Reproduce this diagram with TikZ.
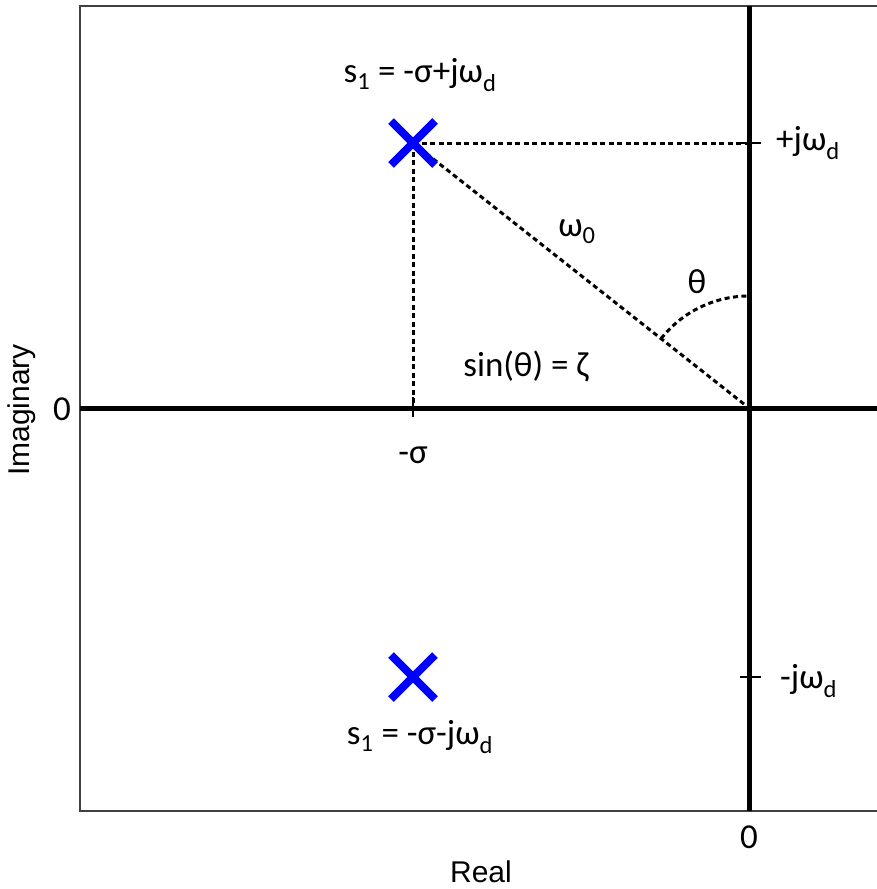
\documentclass[tikz,border=0pt]{standalone}
\usepackage{fontspec}
\setmainfont{Carlito}
\newfontfamily\axisfont{Liberation Sans}
\usetikzlibrary{shapes.misc,positioning}
\definecolor{polecol}{HTML}{0000FF}
\definecolor{framegray}{HTML}{404040}

\begin{document}
\begin{tikzpicture}[x=1pt, y=-1pt,
    frame/.style={draw=framegray, line width=2pt},
    axisline/.style={line width=5pt},
    guide/.style={line width=3pt, dash pattern=on 5pt off 3.5pt},
    tick/.style={line width=2.5pt},
    pole/.style={cross out, draw=polecol, line width=8pt, minimum size=36pt, inner sep=0pt},
    lbl/.style={font=\fontsize{35}{42}\selectfont, inner sep=0pt},
    axlbl/.style={font=\axisfont\fontsize{30}{36}\selectfont, inner sep=0pt}
  ]
    \useasboundingbox (0,0) rectangle (877,889);
    % frame, open on the right
    \draw[frame] (877,6) -- (80,6) -- (80,811) -- (877,811);
    % axes
    \coordinate (orig) at (749,408);
    \draw[axisline] (80,408) -- (877,408);
    \draw[axisline] (749,6) -- (749,811);
    % reference points
    \coordinate (ptop) at (413,143);
    \coordinate (pbot) at (413,677);
    \coordinate (jwup) at (749,143);
    \coordinate (jwdn) at (749,677);
    \coordinate (sig) at (413,408);
    % guides
    \draw[guide] (ptop) -- (jwup);
    \draw[guide] (ptop) -- (sig);
    \draw[guide] (ptop) -- (orig);
    \draw[guide] ([shift={(-141.7:112)}]orig) arc[start angle=-141.7, end angle=-90, radius=112];
    % ticks
    \draw[tick] ([xshift=-9pt]jwup) -- ([xshift=12pt]jwup);
    \draw[tick] ([xshift=-9pt]jwdn) -- ([xshift=12pt]jwdn);
    \draw[tick] ([yshift=-9pt]sig) -- ([yshift=11pt]sig);
    % poles
    \node[pole] (s1) at (ptop) {};
    \node[pole] (s2) at (pbot) {};
    % labels
    \node[lbl] (s1lbl) at (420,75) {s\textsubscript{1} = -σ+jω\textsubscript{d}};
    \node[lbl] (s2lbl) at (420,737) {s\textsubscript{1} = -σ-jω\textsubscript{d}};
    \node[lbl] (w0) at (577,232) {ω\textsubscript{0}};
    \node[lbl] (th) at (697,282) {θ};
    \node[lbl] (sinlbl) at (526,366) {sin(θ) = ζ};
    \node[lbl, anchor=west] (jwuplbl) at (776,143) {+jω\textsubscript{d}};
    \node[lbl, anchor=west] (jwdnlbl) at (780,681) {-jω\textsubscript{d}};
    \node[lbl] (siglbl) at (413,455) {-σ};
    \node[lbl] (zeroy) at (62,409) {0};
    \node[lbl] (zerox) at (749,837) {0};
    \node[axlbl] (xlbl) at (481,872) {Real};
    \node[axlbl, rotate=90] (ylbl) at (22,410) {Imaginary};
  \end{tikzpicture}
\end{document}
